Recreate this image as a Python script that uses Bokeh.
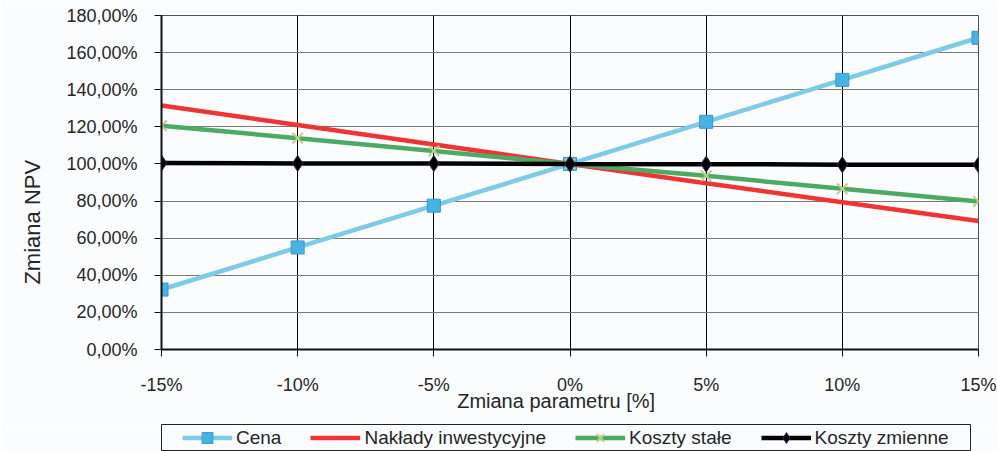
from bokeh.plotting import figure
from bokeh.layouts import column
from bokeh.models import Legend, LegendItem, FixedTicker, Range1d
from bokeh.embed import file_html
from bokeh.resources import INLINE

# ---- data ----
x_change = [-15, -10, -5, 0, 5, 10, 15]
cena = [32.3, 55.0, 77.5, 100.0, 122.7, 145.3, 168.0]
naklady = [131.5, 121.0, 110.5, 100.0, 89.6, 79.4, 69.2]
koszty_stale = [120.6, 113.9, 107.0, 100.0, 93.6, 86.6, 79.8]
koszty_zmienne = [100.5, 100.3, 100.2, 100.0, 99.9, 99.6, 99.5]

y_ticks = [0, 20, 40, 60, 80, 100, 120, 140, 160, 180]
y_tick_labels = ["0,00%", "20,00%", "40,00%", "60,00%", "80,00%", "100,00%",
                 "120,00%", "140,00%", "160,00%", "180,00%"]
x_ticks = [-15, -10, -5, 0, 5, 10, 15]
x_tick_labels = ["-15%", "-10%", "-5%", "0%", "5%", "10%", "15%"]

series_names = ["Cena", "Nakłady inwestycyjne", "Koszty stałe", "Koszty zmienne"]

FONT = "Liberation Sans"
BG = "#fbfcfe"
TXT = "#262626"

STYLES = {
    "cena_line": dict(line_color="#7ccbe8", line_width=4.5),
    "cena_mark": dict(marker="square", size=13, fill_color="#47b3e3",
                      line_color="#3b96c8", line_width=1),
    "nak_line": dict(line_color="#ee3535", line_width=4.5),
    "ks_line": dict(line_color="#4caa64", line_width=4.5),
    "ks_mark": dict(marker="x", size=15, line_color="#bfcd8c", line_width=2),
    "kz_line": dict(line_color="#000000", line_width=4.5),
    "kz_mark": dict(marker="diamond", size=16, fill_color="#000000",
                    line_color="#3a2a5a", line_width=1),
}


def draw_series(fig):
    r = {}
    r["cena_l"] = fig.line(x_change, cena, **STYLES["cena_line"])
    r["cena_m"] = fig.scatter(x_change, cena, **STYLES["cena_mark"])
    r["nak_l"] = fig.line(x_change, naklady, **STYLES["nak_line"])
    r["ks_l"] = fig.line(x_change, koszty_stale, **STYLES["ks_line"])
    r["ks_m"] = fig.scatter(x_change, koszty_stale, **STYLES["ks_mark"])
    r["kz_l"] = fig.line(x_change, koszty_zmienne, **STYLES["kz_line"])
    r["kz_m"] = fig.scatter(x_change, koszty_zmienne, **STYLES["kz_mark"])
    return r


# ---- main chart ----
p = figure(frame_width=817, frame_height=334, output_backend="svg", toolbar_location=None,
           x_range=Range1d(-15, 15), y_range=Range1d(0, 180),
           min_border_left=153, min_border_right=27, min_border_top=15,
           min_border_bottom=75)
p.background_fill_color = BG
p.border_fill_color = BG
p.outline_line_color = "#505050"
p.outline_line_width = 1

p.xgrid.ticker = FixedTicker(ticks=x_ticks)
p.ygrid.ticker = FixedTicker(ticks=y_ticks)
p.xgrid.grid_line_color = "#000000"
p.xgrid.grid_line_width = 1
p.ygrid.grid_line_color = "#7a7a7a"
p.ygrid.grid_line_width = 1

for ax in (p.xaxis[0], p.yaxis[0]):
    ax.axis_line_color = "#111111"
    ax.axis_line_width = 2
    ax.major_tick_line_color = "#111111"
    ax.major_tick_line_width = 1
    ax.major_tick_in = 0
    ax.major_tick_out = 7
    ax.minor_tick_line_color = None
    ax.major_label_text_font = FONT
    ax.major_label_text_font_size = "18px"
    ax.major_label_text_color = TXT
    ax.axis_label_text_font = FONT
    ax.axis_label_text_font_style = "normal"
    ax.axis_label_text_color = TXT

p.xaxis.ticker = FixedTicker(ticks=x_ticks)
p.xaxis.major_label_overrides = {t: l for t, l in zip(x_ticks, x_tick_labels)}
p.xaxis.major_label_standoff = 18
p.xaxis.axis_label = "Zmiana parametru [%]" + "\u00a0" * 5
p.xaxis.axis_label_text_font_size = "20px"
p.xaxis.axis_label_standoff = -8

p.yaxis.ticker = FixedTicker(ticks=y_ticks)
p.yaxis.major_label_overrides = {t: l for t, l in zip(y_ticks, y_tick_labels)}
p.yaxis.major_label_standoff = 17
p.yaxis.axis_label = "Zmiana NPV" + "\u00a0" * 13
p.yaxis.axis_label_text_font_size = "22px"
p.yaxis.axis_label_standoff = 18

draw_series(p)

# ---- legend strip (its frame outline is the legend box) ----
lg = figure(width=997, height=27, output_backend="svg", toolbar_location=None,
            x_axis_type=None, y_axis_type=None,
            x_range=Range1d(1000, 1001), y_range=Range1d(1000, 1001),
            min_border_left=161, min_border_right=27, min_border_top=0,
            min_border_bottom=0)
lg.background_fill_color = BG
lg.border_fill_color = BG
lg.outline_line_color = "#222222"
lg.outline_line_width = 1
rl = draw_series(lg)

legend = Legend(items=[
    LegendItem(label=series_names[0], renderers=[rl["cena_l"], rl["cena_m"]]),
    LegendItem(label=series_names[1], renderers=[rl["nak_l"]]),
    LegendItem(label=series_names[2], renderers=[rl["ks_l"], rl["ks_m"]]),
    LegendItem(label=series_names[3], renderers=[rl["kz_l"], rl["kz_m"]]),
], orientation="horizontal", location=(21, 0))
legend.glyph_width = 50
legend.glyph_height = 27
legend.label_standoff = 4
legend.spacing = 29
legend.padding = 0
legend.margin = 0
legend.label_text_font = FONT
legend.label_text_font_size = "19px"
legend.label_text_color = TXT
legend.border_line_color = None
legend.background_fill_alpha = 0
legend.label_height = 19
lg.add_layout(legend, "center")

layout = column(p, lg, spacing=0)
open("out.html", "w").write(file_html(layout, INLINE))
